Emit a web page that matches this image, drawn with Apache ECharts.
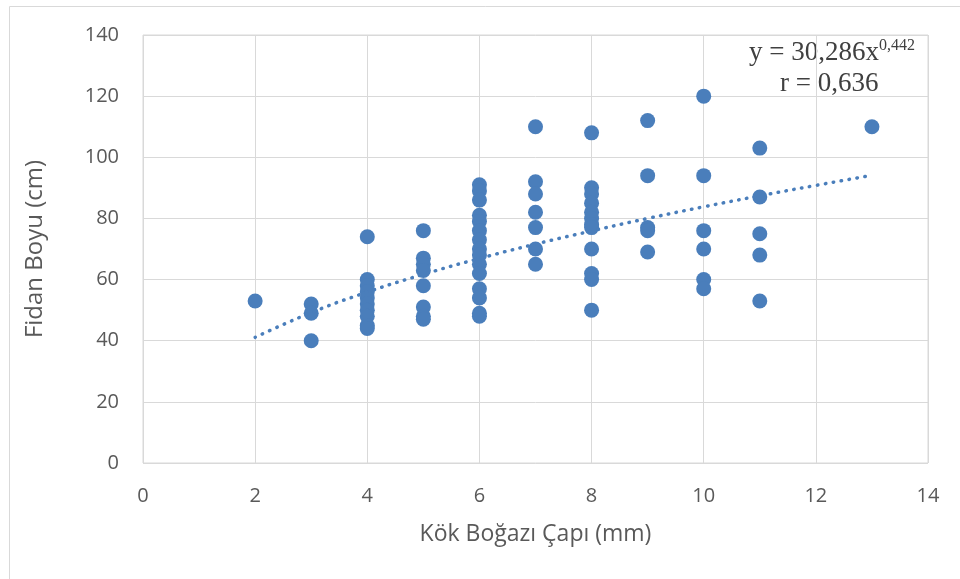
<!DOCTYPE html>
<html><head><meta charset="utf-8">
<script src="https://cdn.jsdelivr.net/npm/echarts@6/dist/echarts.min.js"></script>
<style>html,body{margin:0;padding:0;background:#fff}#c{width:960px;height:579px}</style>
</head><body><div id="c"></div>
<script>
// Data: one list of heights for each diameter
const diam2 = [53];
const diam3 = [52, 49, 40];
const diam4 = [74, 60, 58, 56, 54, 52, 50, 48, 45, 44];
const diam5 = [76, 67, 65, 63, 58, 51, 48, 47];
const diam6 = [91, 89, 86, 81, 79, 76, 73, 70, 68, 65, 62, 57, 54, 49, 48];
const diam7 = [110, 92, 88, 82, 77, 70, 65];
const diam8 = [108, 90, 88, 85, 82, 80, 78, 77, 70, 62, 60, 50];
const diam9 = [112, 94, 77, 76, 69];
const diam10 = [120, 94, 76, 70, 60, 57];
const diam11 = [103, 87, 75, 68, 53];
const diam13 = [110];
// Trend line values
const trendX = [2, 3, 4, 5, 6, 7, 8, 9, 10, 11, 12, 13];
const trendY = [41.1, 49.2, 55.9, 61.7, 66.9, 71.6, 75.9, 80.0, 83.8, 87.4, 90.8, 94.1];
const xTicks = [0, 2, 4, 6, 8, 10, 12, 14];
const yTicks = [0, 20, 40, 60, 80, 100, 120, 140];

const groups = [[2, diam2],[3, diam3],[4, diam4],[5, diam5],[6, diam6],[7, diam7],[8, diam8],[9, diam9],[10, diam10],[11, diam11],[13, diam13]];
const points = [];
groups.forEach(([x, ys]) => ys.forEach(y => points.push([x, y])));
const trend = trendX.map((x, i) => [x, trendY[i]]);

const chart = echarts.init(document.getElementById('c'), null, {renderer: 'canvas'});
const blue = '#4a7ebb';
chart.setOption({
  animation: false,
  graphic: [
    {type: 'rect', shape: {x: 9.5, y: 6.5, width: 980, height: 600}, style: {fill: 'none', stroke: '#d9d9d9', lineWidth: 1}, silent: true, z: -1},
    {type: 'text', right: 45, top: 38, style: {rich: {
        a: {fontFamily: 'Liberation Serif', fontSize: 27, fill: '#404040'},
        s: {fontFamily: 'Liberation Serif', fontSize: 16, fill: '#404040', padding: [0, 0, 14, 0]}
      }, text: '{a|y = 30,286x}{s|0,442}'}},
    {type: 'text', left: 780, top: 70, style: {fontFamily: 'Liberation Serif', fontSize: 27, fill: '#404040', text: 'r = 0,636'}}
  ],
  grid: {left: 143, right: 32, top: 35, bottom: 116, show: true, borderColor: '#d9d9d9', borderWidth: 1},
  xAxis: {
    type: 'value', min: 0, max: 14, interval: 2,
    name: 'Kök Boğazı Çapı (mm)', nameLocation: 'middle', nameGap: 60,
    nameTextStyle: {fontSize: 23, color: '#595959', fontFamily: 'Open Sans'},
    axisLine: {show: false}, axisTick: {show: false},
    axisLabel: {fontSize: 20, color: '#595959', margin: 23, fontFamily: 'Open Sans',
      formatter: v => xTicks.includes(v) ? String(v) : ''},
    splitLine: {lineStyle: {color: '#d9d9d9', width: 1}}
  },
  yAxis: {
    type: 'value', min: 0, max: 140, interval: 20,
    name: 'Fidan Boyu (cm)', nameLocation: 'middle', nameGap: 96,
    nameTextStyle: {fontSize: 24, color: '#595959', fontFamily: 'Open Sans'},
    axisLine: {show: false}, axisTick: {show: false},
    axisLabel: {fontSize: 20, color: '#595959', margin: 24, fontFamily: 'Open Sans',
      formatter: v => yTicks.includes(v) ? String(v) : ''},
    splitLine: {lineStyle: {color: '#d9d9d9', width: 1}}
  },
  series: [
    {type: 'scatter', data: points, symbolSize: 15, itemStyle: {color: blue, opacity: 1}, z: 3},
    {type: 'line', data: trend, smooth: true, showSymbol: false, symbol: 'none',
     lineStyle: {color: blue, width: 3.5, type: [0.5, 7.5], cap: 'round'}, z: 4}
  ]
});
</script></body></html>
